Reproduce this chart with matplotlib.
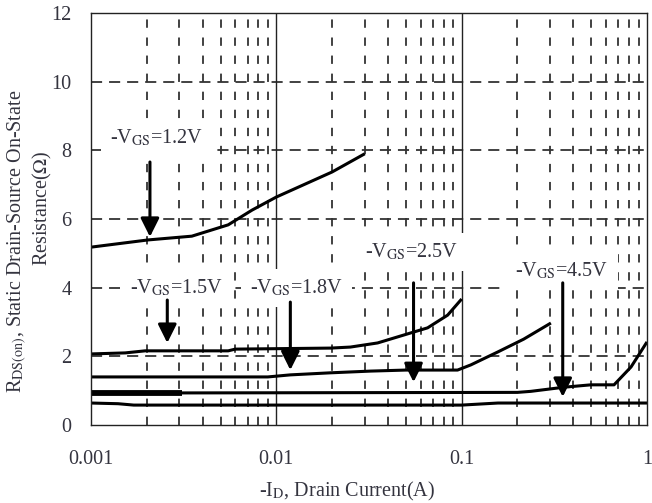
import matplotlib
matplotlib.use("Agg")
import matplotlib.pyplot as plt

plt.rcParams['font.family'] = ['Liberation Serif', 'DejaVu Serif']
plt.rcParams['mathtext.fontset'] = 'stix'
plt.rcParams['lines.scale_dashes'] = False

TXT = '#34343f'

# curves (-ID in A, RDS(on) in ohm)
c12_i = [0.001, 0.00203, 0.0035, 0.0055, 0.0074, 0.01, 0.02, 0.030]
c12_r = [5.18, 5.39, 5.50, 5.83, 6.26, 6.64, 7.37, 7.90]

c15_i = [0.001, 0.00153, 0.00196, 0.0055, 0.006, 0.0196, 0.0251, 0.0352, 0.053, 0.0655, 0.084, 0.1]
c15_r = [2.07, 2.10, 2.16, 2.16, 2.21, 2.24, 2.27, 2.39, 2.68, 2.83, 3.20, 3.67]

c18_i = [0.001, 0.009, 0.0119, 0.0196, 0.0322, 0.05, 0.095, 0.112, 0.157, 0.216, 0.303]
c18_r = [1.40, 1.40, 1.46, 1.52, 1.57, 1.60, 1.60, 1.75, 2.13, 2.50, 2.97]

c25_i = [0.001, 0.2, 0.236, 0.356, 0.498, 0.664, 0.82, 1.0]
c25_r = [0.93, 0.95, 0.98, 1.10, 1.17, 1.17, 1.69, 2.42]
c25_thick_i = [0.001, 0.0031]
c25_thick_r = [0.93, 0.93]

c45_i = [0.001, 0.0014, 0.0017, 0.1, 0.157, 1.0]
c45_r = [0.64, 0.62, 0.58, 0.58, 0.64, 0.64]

# annotations: label text, label pos, arrow x, arrow start, arrow tip
labels = ['1.2V', '1.5V', '1.8V', '2.5V', '4.5V']
label_x = [0.00227, 0.00288, 0.0128, 0.0537, 0.347]
label_y = [8.36, 3.99, 3.99, 5.04, 4.49]
arrow_x = [0.00208, 0.00258, 0.0119, 0.055, 0.351]
arrow_from = [7.66, 3.64, 3.58, 4.14, 4.14]
arrow_to = [5.48, 2.39, 1.60, 1.25, 0.82]

fig = plt.figure(figsize=(6.52, 5.03), dpi=100)
ax = fig.add_axes([91 / 652, 1 - 425 / 503, 556 / 652, 412 / 503])
ax.set_xscale('log')
ax.set_xlim(0.001, 1)
ax.set_ylim(0, 12)

# grid
for y in [2, 4, 6, 8, 10]:
    ax.axhline(y, color='#333333', lw=1.3, dashes=(8, 5), zorder=1)
for dec in [0.001, 0.01, 0.1]:
    for m in range(2, 10):
        ax.axvline(dec * m, color='#333333', lw=1.3, dashes=(6, 7), zorder=1)
for xv in [0.01, 0.1]:
    ax.axvline(xv, color='#222222', lw=1.0, zorder=1)

lw = 2.2
for xs, ys in [(c12_i, c12_r), (c15_i, c15_r), (c18_i, c18_r), (c25_i, c25_r), (c45_i, c45_r)]:
    ax.plot(xs, ys, color='black', lw=lw, zorder=4, solid_capstyle='butt')
ax.plot(c25_thick_i, c25_thick_r, color='black', lw=4.2, zorder=4, solid_capstyle='butt')

for lab, lx, ly in zip(labels, label_x, label_y):
    ax.text(lx, ly, '-V$_{\\mathrm{GS}}$=' + lab, ha='center', va='center', fontsize=14.5,
            color=TXT, zorder=3,
            bbox=dict(boxstyle='square,pad=0.45', fc='white', ec='none'))

for ax_, a0, a1 in zip(arrow_x, arrow_from, arrow_to):
    ax.annotate('', xy=(ax_, a1), xytext=(ax_, a0), zorder=5,
                arrowprops=dict(arrowstyle='-|>,head_length=0.8,head_width=0.4',
                                mutation_scale=14, lw=2.2, color='black',
                                shrinkA=0, shrinkB=0))

ax.set_xticks([0.001, 0.01, 0.1, 1])
ax.set_xticklabels(['0.001', '0.01', '0.1', '1'])
ax.set_xticks([], minor=True)
ax.set_yticks([0, 2, 4, 6, 8, 10, 12])
ax.tick_params(length=0, labelsize=14.5, labelcolor=TXT)
ax.tick_params(axis='x', pad=18)
ax.tick_params(axis='y', pad=14)
for s in ax.spines.values():
    s.set_linewidth(1.0)
    s.set_color('#222222')
    s.set_zorder(6)

fig.text(347 / 652, 1 - 491 / 503, '-I$_{\\mathrm{D}}$, Drain Current(A)', ha='center',
         va='center', fontsize=14.5, color=TXT)
fig.text(17 / 652, 1 - 241 / 503, 'R$_{\\mathrm{DS(on)}}$, Static Drain-Source On-State',
         rotation=90, ha='center', va='center', fontsize=14.5, color=TXT)
fig.text(42 / 652, 1 - 208 / 503, 'Resistance($\\Omega$)', rotation=90, ha='center',
         va='center', fontsize=14.5, color=TXT)

fig.savefig('out.png', dpi=100, facecolor='white')
